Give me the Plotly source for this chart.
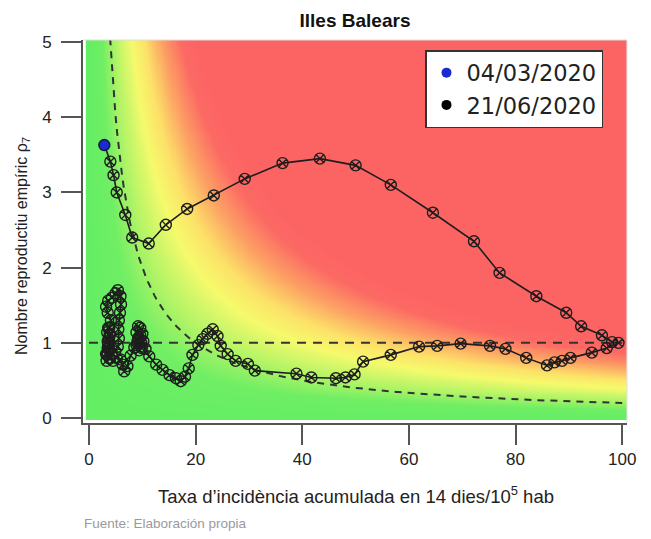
import numpy as np
import plotly.graph_objects as go

# ---------------- data ----------------
title_text = "Illes Balears"
legend_labels = ["04/03/2020", "21/06/2020"]
x_ticks = [0, 20, 40, 60, 80, 100]
y_ticks = [0, 1, 2, 3, 4, 5]

# trajectory (incidence 14d /1e5, rho7), chronological from 04/03/2020
traj_x = [2.87, 4.0, 4.6, 5.2, 6.8, 8.1, 11.2, 14.4, 18.4, 23.4, 29.2, 36.3, 43.3, 50.0,
          56.6, 64.5, 72.2, 77.0, 83.9, 89.5, 92.3, 96.2, 98.1, 99.3, 97.1, 94.3, 90.3,
          88.7, 87.3, 85.9, 82.0, 78.1, 75.2, 69.7, 65.3, 61.9, 56.6, 51.4, 49.8, 48.1,
          46.3, 41.7, 38.9, 31.1, 29.8, 27.5, 26.0, 24.7, 24.1, 23.2, 22.2, 21.3, 20.5,
          19.4, 18.7, 18.0, 17.2, 16.3, 15.1, 13.8, 12.6, 11.3, 10.6, 10.2, 10.0, 9.6,
          9.2, 8.9, 9.3, 9.8, 9.9, 9.4, 8.9, 9.2, 9.6, 9.1, 8.5, 7.8, 7.2, 6.6, 6.3, 5.9,
          5.2, 4.5, 3.9, 3.5, 3.6, 3.9, 3.8, 4.1, 3.5, 3.2, 3.6, 4.3, 5.0, 5.4, 5.9, 6.0,
          5.8, 5.6, 5.5, 5.6, 5.4, 4.9, 4.3, 3.8, 3.3, 3.2, 3.5, 3.9, 3.7, 3.4, 3.6, 3.9,
          3.5, 3.7, 3.4]
traj_y = [3.63, 3.41, 3.23, 3.00, 2.70, 2.40, 2.32, 2.57, 2.78, 2.96, 3.18, 3.39, 3.45, 3.36,
          3.10, 2.73, 2.35, 1.93, 1.62, 1.40, 1.22, 1.10, 1.01, 1.00, 0.93, 0.87, 0.80,
          0.76, 0.74, 0.70, 0.80, 0.92, 0.96, 0.99, 0.96, 0.95, 0.84, 0.75, 0.58, 0.54,
          0.53, 0.54, 0.59, 0.63, 0.72, 0.76, 0.85, 0.96, 1.09, 1.18, 1.12, 1.05, 0.97,
          0.84, 0.66, 0.55, 0.49, 0.53, 0.57, 0.64, 0.71, 0.82, 0.92, 1.02, 1.12, 1.20,
          1.22, 1.14, 1.07, 1.00, 0.93, 0.90, 0.97, 1.04, 1.10, 1.02, 0.94, 0.83, 0.69,
          0.62, 0.71, 0.78, 0.80, 0.76, 0.79, 0.87, 0.98, 1.10, 1.20, 1.30, 1.40, 1.48,
          1.56, 1.60, 1.66, 1.70, 1.62, 1.51, 1.40, 1.30, 1.18, 1.06, 0.95, 0.88, 0.86,
          0.80, 0.76, 0.85, 0.93, 1.00, 1.06, 1.14, 1.20, 1.12, 1.02, 0.92, 0.84]

# reference levels
rho_threshold = 1.0
risk_threshold = 20.0   # dashed hyperbola rho * incidence = 20

# ---------------- background risk surface ----------------
gx = np.linspace(-0.4, 100.8, 254)
gy = np.linspace(0.0, 5.05, 102)
GX, GY = np.meshgrid(gx, gy)
Z = np.clip(GX, 0, None) * GY

colorscale = [
    [0.00, "rgb(100,238,100)"],
    [0.12, "rgb(112,238,100)"],
    [0.24, "rgb(178,244,102)"],
    [0.40, "rgb(246,250,108)"],
    [0.52, "rgb(252,226,104)"],
    [0.68, "rgb(252,162,100)"],
    [0.86, "rgb(252,106,100)"],
    [1.00, "rgb(252,100,100)"],
]

fig = go.Figure()
fig.add_trace(go.Heatmap(x=gx, y=gy, z=Z, zmin=0, zmax=100, colorscale=colorscale,
                         zsmooth="best", showscale=False, hoverinfo="skip",
                         showlegend=False))

# dashed reference lines
hx = np.linspace(risk_threshold / 5.05, 100, 300)
fig.add_trace(go.Scatter(x=hx, y=risk_threshold / hx, mode="lines",
                         line=dict(color="#333333", width=2, dash="7px,6px"),
                         showlegend=False, hoverinfo="skip"))
fig.add_trace(go.Scatter(x=[0, 100], y=[rho_threshold, rho_threshold], mode="lines",
                         line=dict(color="#333333", width=2, dash="9px,7px"),
                         showlegend=False, hoverinfo="skip"))

# trajectory
fig.add_trace(go.Scatter(x=traj_x, y=traj_y, mode="lines+markers",
                         line=dict(color="#1e1e1e", width=1.6),
                         marker=dict(symbol="circle-x-open", size=11,
                                     line=dict(color="#1e1e1e", width=1.4),
                                     color="#1e1e1e"),
                         showlegend=False))
# start point (blue)
fig.add_trace(go.Scatter(x=traj_x[:1], y=traj_y[:1], mode="markers",
                         marker=dict(size=10, color="#1a2ccf",
                                     line=dict(color="#101870", width=1)),
                         showlegend=False))

# legend entries
fig.add_trace(go.Scatter(x=[None], y=[None], mode="markers", name=legend_labels[0],
                         marker=dict(size=10, color="#1a2ccf")))
fig.add_trace(go.Scatter(x=[None], y=[None], mode="markers", name=legend_labels[1],
                         marker=dict(size=10, color="#000000")))

font_family = "Liberation Sans, Arial, sans-serif"

# the page body has an 8px default margin: compensate so that the plot lands
# at the same screen position as in the reference
OFF = 8
L, R_EDGE, T, B_EDGE = 83, 627, 40, 423   # screen coordinates of the plot frame
PW = R_EDGE - L
PH = B_EDGE - T

def px(sx):
    return (sx - L) / PW

def py(sy):
    return (B_EDGE - sy) / PH

fig.update_layout(
    width=651, height=539,
    margin=dict(l=L - OFF, r=651 - (R_EDGE - OFF), t=T - OFF, b=539 - (B_EDGE - OFF),
                autoexpand=False),
    paper_bgcolor="white", plot_bgcolor="white",
    font=dict(family=font_family, color="#222222"),
    title=dict(text="<b>" + title_text + "</b>", x=(355 - OFF) / 651, xanchor="center",
               xref="container", y=1 - (20 - OFF) / 539, yanchor="middle", yref="container",
               font=dict(size=19, color="#111111")),
    legend=dict(x=px(603), xanchor="right", y=py(50), yanchor="top",
                bgcolor="white", bordercolor="#333333", borderwidth=1.5,
                font=dict(size=22.5, color="#222222",
                          family="DejaVu Sans, Liberation Sans, sans-serif"),
                itemwidth=30, tracegroupgap=0),
    xaxis=dict(range=[-1.13, 100.9], tickmode="array", tickvals=x_ticks,
               ticktext=[str(v) for v in x_ticks], ticks="outside", ticklen=20,
               tickwidth=2, tickcolor="#555555", showline=True, linecolor="#555555",
               linewidth=2, showgrid=False, zeroline=False,
               tickfont=dict(size=17, color="#222222")),
    yaxis=dict(range=[-0.066, 5.027], tickmode="array", tickvals=y_ticks,
               ticktext=[str(v) for v in y_ticks], ticks="outside", ticklen=20,
               tickwidth=2, tickcolor="#555555", showline=True, linecolor="#555555",
               linewidth=2, showgrid=False, zeroline=False, ticklabelstandoff=6,
               tickfont=dict(size=17, color="#222222")),
    annotations=[
        dict(text="Nombre reproductiu empíric ρ<sub>7</sub>", xref="paper", yref="paper",
             x=px(22), y=py(246), textangle=-90, showarrow=False,
             xanchor="center", yanchor="middle", font=dict(size=16, color="#222222")),
        dict(text="Taxa d’incidència acumulada en 14 dies/10<sup>5</sup> hab",
             xref="paper", yref="paper", x=px(356), y=py(495),
             showarrow=False, xanchor="center", yanchor="middle",
             font=dict(size=18.5, color="#222222")),
        dict(text="Fuente: Elaboración propia", xref="paper", yref="paper",
             x=px(82), y=py(523), showarrow=False,
             xanchor="left", yanchor="middle", font=dict(size=13.5, color="#9a9a9a")),
    ],
    shapes=[
        dict(type="line", xref="paper", yref="paper", x0=0, x1=1, y0=1, y1=1,
             line=dict(color="#dddddd", width=1)),
        dict(type="line", xref="paper", yref="paper", x0=1, x1=1, y0=0, y1=1,
             line=dict(color="#dddddd", width=1)),
    ],
)

fig.write_html("out.html")
